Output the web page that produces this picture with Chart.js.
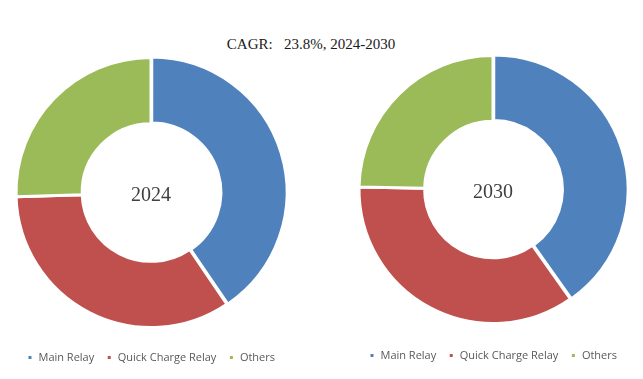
<!DOCTYPE html>
<html>
<head>
<meta charset="utf-8">
<script src="https://cdn.jsdelivr.net/npm/chart.js@4.4.0/dist/chart.umd.min.js"></script>
<style>
  body { margin: 0; background: #fff; width: 643px; height: 379px; overflow: hidden; position: relative; }
  #title { position: absolute; left: 0; width: 622px; top: 36px; text-align: center;
    font-family: "Liberation Serif", serif; font-size: 15px; color: #1a1a1a; white-space: pre; }
  .box { position: absolute; top: 40px; }
</style>
</head>
<body>
<div id="title">CAGR:   23.8%, 2024-2030</div>
<div class="box" style="left:0px;width:302px;height:333px"><canvas id="c2024"></canvas></div>
<div class="box" style="left:342px;width:302px;height:331px"><canvas id="c2030"></canvas></div>
<script>
const categories = ["Main Relay", "Quick Charge Relay", "Others"];
const share2024 = [40.5, 34.0, 25.5];
const share2030 = [40.2, 35.1, 24.7];
const colors = ["#4F81BD", "#C0504D", "#9BBB59"];

// year label in the hole
const centerText = {
  id: 'centerText',
  afterDraw(chart, args, opts) {
    const arc = chart.getDatasetMeta(0).data[0];
    const ctx = chart.ctx;
    ctx.save();
    ctx.font = '20px "Liberation Serif", serif';
    ctx.fillStyle = '#404040';
    ctx.textAlign = 'center';
    ctx.textBaseline = 'middle';
    ctx.fillText(opts.text, arc.x, arc.y + 3);
    ctx.restore();
  }
};

function makeDonut(id, values, year, padTop, r) {
  new Chart(document.getElementById(id), {
    type: 'doughnut',
    data: {
      labels: categories,
      datasets: [{
        data: values,
        backgroundColor: colors,
        borderColor: '#ffffff',
        borderWidth: 3,
        offset: [3, 0, 0]
      }]
    },
    options: {
      responsive: true,
      maintainAspectRatio: false,
      animation: false,
      cutout: '51%',
      radius: r,
      layout: { padding: { top: padTop } },
      plugins: {
        legend: {
          position: 'bottom',
          labels: {
            boxWidth: 6, boxHeight: 6, padding: 12,
            color: '#595959',
            font: { family: '"Open Sans", sans-serif', size: 11 }
          }
        },
        tooltip: { enabled: false },
        centerText: { text: year }
      }
    },
    plugins: [centerText]
  });
}

makeDonut('c2024', share2024, '2024', 5, 135);
makeDonut('c2030', share2030, '2030', 1, 134);
</script>
</body>
</html>
